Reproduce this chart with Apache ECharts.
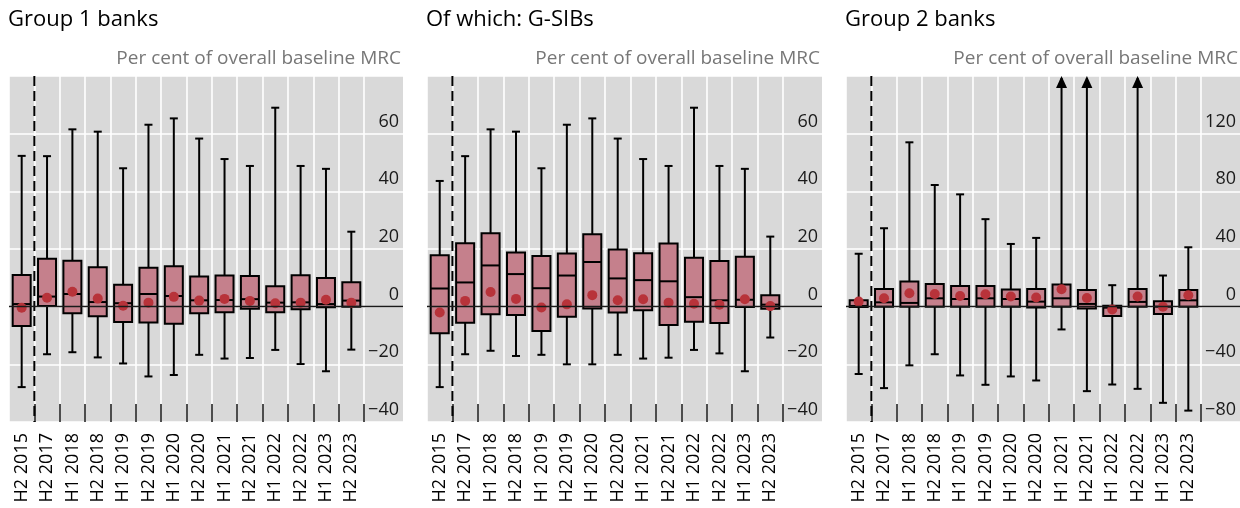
<!DOCTYPE html>
<html>
<head>
<meta charset="utf-8">
<script src="https://cdn.jsdelivr.net/npm/echarts@6/dist/echarts.min.js"></script>
<style>
html,body{margin:0;padding:0;background:#fff;}
#chart{width:1240px;height:508px;}
</style>
</head>
<body>
<div id="chart"></div>
<script>
// ---- Data ----
const categories = ['H2 2015','H2 2017','H1 2018','H2 2018','H1 2019','H2 2019','H1 2020','H2 2020','H1 2021','H2 2021','H1 2022','H2 2022','H1 2023','H2 2023'];

// Group 1 banks
const g1High   = [52.3, 52.2, 61.5, 60.7, 48.0, 63.1, 65.3, 58.3, 51.2, 48.8, 69.0, 48.8, 47.8, 26.0];
const g1Q3     = [11.0, 16.6, 15.9, 13.7, 7.6, 13.5, 14.0, 10.5, 10.8, 10.6, 7.1, 10.9, 9.9, 8.5];
const g1Median = [0.9, 3.5, 4.4, 1.6, 1.2, 4.4, 3.7, 2.2, 2.3, 2.6, 1.4, 1.5, 0.9, 2.1];
const g1Q1     = [-6.7, 0.2, -2.3, -3.3, -5.3, -5.5, -5.9, -2.3, -1.9, -0.7, -1.9, -0.9, -0.2, 0];
const g1Low    = [-27.9, -16.5, -15.8, -17.6, -19.7, -24.2, -23.7, -16.7, -18.0, -17.8, -15.0, -19.9, -22.4, -14.9];
const g1Mean   = [-0.4, 3.1, 5.2, 2.8, 0.3, 1.4, 3.4, 2.1, 2.7, 2.0, 1.2, 1.4, 2.4, 1.4];

// Of which: G-SIBs
const gsHigh   = [43.6, 52.2, 61.5, 60.7, 48.0, 63.1, 65.3, 58.3, 51.2, 48.8, 69.0, 48.8, 47.8, 24.3];
const gsQ3     = [17.8, 22.0, 25.5, 18.8, 17.6, 18.4, 25.1, 19.8, 18.5, 21.9, 17.0, 15.8, 17.3, 4.0];
const gsMedian = [6.3, 8.4, 14.3, 11.3, 6.4, 10.8, 15.5, 9.8, 9.2, 8.8, 3.3, 2.2, 2.4, 0.7];
const gsQ1     = [-9.2, -5.6, -2.6, -2.9, -8.4, -3.5, -0.6, -2.0, -1.2, -6.4, -5.2, -5.7, -0.1, -0.7];
const gsLow    = [-27.9, -16.5, -15.3, -17.1, -16.7, -20.0, -20.0, -16.7, -18.0, -17.7, -15.0, -16.2, -22.4, -10.7];
const gsMean   = [-2.0, 2.0, 5.1, 2.7, -0.3, 0.8, 4.0, 2.2, 2.6, 1.4, 1.0, 0.7, 2.6, 0.2];

// Group 2 banks (upper whiskers of 200 are estimates for values off the top of the axis)
const g2High   = [36.7, 54.4, 114.0, 84.4, 77.9, 60.7, 43.5, 47.7, 200, 200, 14.9, 200, 21.6, 41.2];
const g2Q3     = [4.4, 12.3, 17.4, 15.8, 14.4, 14.4, 11.9, 12.3, 15.3, 11.6, 0.7, 12.3, 3.7, 11.6];
const g2Median = [0.5, 3.0, 2.6, 5.8, 5.3, 5.8, 5.3, 3.5, 5.8, 1.9, -0.7, 3.3, 0, 4.4];
const g2Q1     = [-0.2, 0, 0, 0, 0, 0, 0, -0.5, 0, -1.2, -6.5, 0, -5.1, 0];
const g2Low    = [-46.7, -56.5, -40.7, -33.0, -47.7, -54.2, -48.4, -51.2, -15.8, -58.6, -54.0, -57.0, -66.7, -72.1];
const g2Mean   = [3.5, 5.8, 9.3, 8.8, 7.4, 8.6, 7.0, 6.3, 12.1, 6.0, -1.9, 7.0, 0, 7.9];

const panelTitles = ['Group 1 banks', 'Of which: G-SIBs', 'Group 2 banks'];
const unitLabel = 'Per cent of overall baseline MRC';

// ---- Layout / style ----
const FONT = 'Open Sans';
const BG = '#d9d9d9';
const BOX_FILL = '#c5808c';
const MEAN_COLOR = '#b8333a';
const panels = [
  {title: panelTitles[0], L: 9,   R: 364,  F: 403,  min: -40, max: 80,  interval: 20,
   low: g1Low, q1: g1Q1, med: g1Median, q3: g1Q3, high: g1High, mean: g1Mean},
  {title: panelTitles[1], L: 427, R: 783,  F: 822,  min: -40, max: 80,  interval: 20,
   low: gsLow, q1: gsQ1, med: gsMedian, q3: gsQ3, high: gsHigh, mean: gsMean},
  {title: panelTitles[2], L: 846, R: 1201, F: 1240, min: -80, max: 160, interval: 40,
   low: g2Low, q1: g2Q1, med: g2Median, q3: g2Q3, high: g2High, mean: g2Mean}
];
const TOP = 76, HEIGHT = 346;

function fmt(v){ return v < 0 ? '\u2212' + Math.abs(v) : String(v); }

function renderBox(params, api){
  const idx = api.value(0);
  const low = api.value(1), q1 = api.value(2), med = api.value(3), q3 = api.value(4), high = api.value(5);
  const cs = params.coordSys;
  const band = api.size([1, 0])[0];
  const cx = api.coord([idx, 0])[0];
  const y = v => api.coord([idx, v])[1];
  const boxW = band * 0.71;
  const capW = 8;
  const ln = {stroke: '#000', lineWidth: 2};
  const yTop = cs.y, yBot = cs.y + cs.height;
  let yHigh = y(high);
  const over = yHigh < yTop;
  if (over) yHigh = yTop + 2;
  const children = [];
  children.push({type: 'line', shape: {x1: cx, y1: y(q3), x2: cx, y2: yHigh}, style: ln});
  children.push({type: 'line', shape: {x1: cx, y1: y(q1), x2: cx, y2: y(low)}, style: ln});
  if (over) {
    children.push({type: 'polygon', shape: {points: [[cx, yTop], [cx - 5.5, yTop + 12], [cx + 5.5, yTop + 12]]},
      style: {fill: '#000'}});
  } else {
    children.push({type: 'line', shape: {x1: cx - capW/2, y1: yHigh, x2: cx + capW/2, y2: yHigh}, style: ln});
  }
  children.push({type: 'line', shape: {x1: cx - capW/2, y1: y(low), x2: cx + capW/2, y2: y(low)}, style: ln});
  children.push({type: 'rect', shape: {x: cx - boxW/2, y: y(q3), width: boxW, height: y(q1) - y(q3)},
    style: {fill: BOX_FILL, stroke: '#000', lineWidth: 2}});
  children.push({type: 'line', shape: {x1: cx - boxW/2, y1: y(med), x2: cx + boxW/2, y2: y(med)}, style: ln});
  if (idx === 0) {
    children.push({type: 'line', shape: {x1: cx + band/2, y1: yTop, x2: cx + band/2, y2: yBot},
      style: {stroke: '#000', lineWidth: 2, lineDash: [10, 5]}});
  }
  return {type: 'group', children: children};
}

const grid = [], xAxis = [], yAxis = [], series = [], title = [];
panels.forEach((p, k) => {
  const gm = 2*k, gs = 2*k + 1;
  grid.push({left: p.L, top: TOP, width: p.R - p.L, height: HEIGHT, show: true, backgroundColor: BG, borderWidth: 0});
  grid.push({left: p.R, top: TOP, width: p.F - p.R, height: HEIGHT, show: true, backgroundColor: BG, borderWidth: 0});
  xAxis.push({
    type: 'category', gridIndex: gm, data: categories, boundaryGap: true, position: 'bottom',
    axisLine: {show: false, onZero: false},
    axisTick: {show: true, inside: true, length: 18, interval: function(i){ return i !== 0; },
      lineStyle: {color: '#4d4d4d', width: 2}},
    splitLine: {show: true, interval: 0, lineStyle: {color: '#fff', width: 1.6}},
    axisLabel: {show: true, interval: 0, rotate: 90, margin: 11, fontFamily: FONT, fontSize: 18, color: '#000'}
  });
  xAxis.push({type: 'value', gridIndex: gs, min: 0, max: 1, show: false});
  yAxis.push({
    type: 'value', gridIndex: gm, min: p.min, max: p.max, interval: p.interval,
    axisLine: {show: false}, axisTick: {show: false}, axisLabel: {show: false},
    splitLine: {show: true, lineStyle: {color: '#fff', width: 1.6}}
  });
  yAxis.push({
    type: 'value', gridIndex: gs, min: p.min, max: p.max, interval: p.interval, position: 'right',
    axisLine: {show: false}, axisTick: {show: false},
    splitLine: {show: true, lineStyle: {color: '#fff', width: 1.6}},
    axisLabel: {show: true, inside: true, margin: 4, showMaxLabel: false, formatter: fmt,
      verticalAlign: 'bottom', padding: [0, 0, 3, 0],
      fontFamily: FONT, fontSize: 18, color: '#1a1a1a'}
  });
  series.push({
    type: 'custom', xAxisIndex: gm, yAxisIndex: gm, z: 2, silent: true,
    renderItem: renderBox,
    encode: {x: 0, y: [1, 2, 3, 4, 5]},
    data: categories.map((c, i) => [i, p.low[i], p.q1[i], p.med[i], p.q3[i], p.high[i]])
  });
  series.push({
    type: 'line', xAxisIndex: gm, yAxisIndex: gm, z: 3, data: [], silent: true,
    markLine: {silent: true, symbol: 'none', label: {show: false},
      lineStyle: {color: '#1a1a1a', width: 1.3, type: 'solid'}, data: [{yAxis: 0}]}
  });
  series.push({
    type: 'line', xAxisIndex: gs, yAxisIndex: gs, z: 3, data: [], silent: true,
    markLine: {silent: true, symbol: 'none', label: {show: false},
      lineStyle: {color: '#1a1a1a', width: 1.3, type: 'solid'}, data: [{yAxis: 0}]}
  });
  series.push({
    type: 'scatter', xAxisIndex: gm, yAxisIndex: gm, z: 4, silent: true,
    symbol: 'circle', symbolSize: 10, itemStyle: {color: MEAN_COLOR, opacity: 1},
    data: p.mean.map((m, i) => [i, m])
  });
  title.push({text: p.title, left: p.L - 1, top: 9, padding: 0,
    textStyle: {fontFamily: FONT, fontSize: 22, fontWeight: 'normal', color: '#000'}});
  title.push({text: unitLabel, right: 1240 - p.F + 2, top: 49, padding: 0,
    textStyle: {fontFamily: FONT, fontSize: 19, fontWeight: 'normal', color: '#777'}});
});

const chart = echarts.init(document.getElementById('chart'), null, {renderer: 'canvas'});
chart.setOption({animation: false, backgroundColor: '#fff', title, grid, xAxis, yAxis, series});
</script>
</body>
</html>
